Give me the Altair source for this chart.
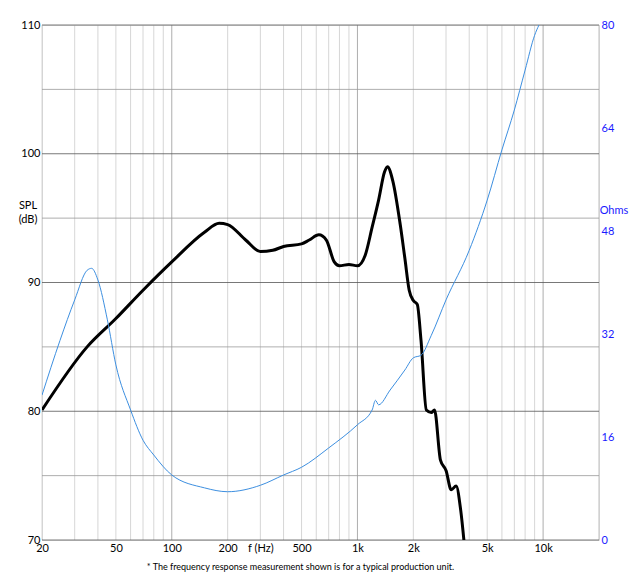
import altair as alt
import pandas as pd

# SPL (black) curve
spl_f = [20, 35, 50, 70, 100, 150, 180, 200, 250, 300, 350, 400, 500, 550, 620, 680, 750, 800,
         900, 1000, 1100, 1200, 1300, 1400, 1450, 1550, 1700, 1800, 1900, 2000, 2100, 2200,
         2350, 2500, 2600, 2800, 3000, 3200, 3400, 3600, 3800]
spl_db = [80.1, 85.0, 87.2, 89.4, 91.6, 93.9, 94.6, 94.5, 93.3, 92.4, 92.5, 92.8, 93.0, 93.3,
          93.7, 93.3, 91.6, 91.3, 91.4, 91.3, 92.1, 94.3, 96.4, 98.6, 99.0, 97.9, 94.5, 91.9,
          89.4, 88.6, 88.3, 85.5, 80.1, 79.9, 80.1, 76.2, 75.4, 73.9, 74.2, 72.3, 69.0]

# impedance (blue) curve
imp_f = [20, 25, 30, 35, 37, 40, 45, 50, 60, 70, 80, 100, 150, 200, 300, 400, 500, 700,
         1000, 1200, 1250, 1300, 1500, 1800, 2000, 2200, 2500, 3000, 4000, 5000, 6000,
         7000, 8000, 9000, 9500]
imp_ohm = [22.5, 31.0, 37.3, 41.9, 42.2, 40.4, 34.2, 27.2, 20.2, 15.5, 13.2, 10.1, 8.1, 7.5,
           8.5, 10.1, 11.3, 14.3, 17.9, 20.2, 21.7, 21.0, 23.3, 26.4, 28.3, 28.7, 31.8, 37.3,
           45.0, 52.8, 60.6, 66.8, 73.0, 78.4, 80.0]

x_labels = {20: "20", 50: "50", 100: "100", 200: "200", 300: "f (Hz)", 500: "500",
            1000: "1k", 2000: "2k", 5000: "5k", 10000: "10k"}
v_grid = [m * d for d in [10, 100, 1000, 10000] for m in range(1, 10) if 20 <= m * d <= 20000] + [20000]
h_grid = list(range(70, 111, 5))

W, H = 557, 515
xs = alt.Scale(type="log", domain=[20, 20000], nice=False)
ys = alt.Scale(domain=[70, 110], nice=False)

spl = pd.DataFrame({"f": spl_f, "db": spl_db})
imp = pd.DataFrame({"f": imp_f, "ohm": imp_ohm})
vg = pd.DataFrame({"f": v_grid, "major": [v in (100, 1000, 10000) for v in v_grid]})
hg = pd.DataFrame({"db": h_grid, "major": [v % 10 == 0 for v in h_grid]})

label_expr = "{" + ",".join(f"'{k}':'{v}'" for k, v in x_labels.items()) + "}[datum.value] || ''"

vrules = alt.Chart(vg).mark_rule(strokeWidth=0.8).encode(
    x=alt.X("f:Q", scale=xs, axis=alt.Axis(values=list(x_labels.keys()), labelExpr=label_expr,
            title=None, grid=False, ticks=False, domain=False, labelFontSize=11,
            labelColor="#000", labelFlush=False)),
    color=alt.condition("datum.major", alt.value("#999"), alt.value("#ccc")),
)
hrules = alt.Chart(hg).mark_rule(strokeWidth=0.8).encode(
    y=alt.Y("db:Q", scale=ys, axis=alt.Axis(values=[70, 80, 90, 100, 110], title=None, grid=False,
            ticks=False, domain=False, labelFontSize=11, labelColor="#000")),
    color=alt.condition("datum.major", alt.value("#555"), alt.value("#999")),
)
spl_line = alt.Chart(spl).mark_line(color="black", strokeWidth=3, interpolate="monotone", clip=True).encode(
    x=alt.X("f:Q", scale=xs), y=alt.Y("db:Q", scale=ys))

imp_line = alt.Chart(imp).mark_line(color="#3d8fe0", strokeWidth=1, interpolate="monotone", clip=True).encode(
    x=alt.X("f:Q", scale=xs),
    y=alt.Y("ohm:Q", scale=alt.Scale(domain=[0, 80], nice=False),
            axis=alt.Axis(orient="right", values=[0, 16, 32, 48, 64, 80], title=None, grid=False,
                          ticks=False, domain=False, labelFontSize=11, labelColor="#1a1aff")))

texts = pd.DataFrame({"t": ["SPL", "(dB)", "Ohms",
                            "* The frequency response measurement shown is for a typical production unit."],
                      "x": [-14, -14, 572, W / 2 - 20], "y": [181, 195, 186, H + 27],
                      "c": ["#000", "#000", "#1a1aff", "#000"], "s": [11, 11, 11, 9]})
labels = alt.Chart(texts).mark_text(fontSize=11).encode(
    x=alt.X("x:Q", scale=None), y=alt.Y("y:Q", scale=None), text="t:N",
    color=alt.Color("c:N", scale=None), size=alt.Size("s:Q", scale=None))

db_part = alt.layer(vrules, hrules, spl_line).resolve_scale(color="independent")
chart = alt.layer(db_part, imp_line).resolve_scale(y="independent")
chart = alt.layer(chart, labels).properties(
    width=W, height=H, autosize=alt.AutoSizeParams(type="none"),
    padding={"left": 34, "top": 17, "right": 36, "bottom": 35},
).configure_view(stroke="#999").configure(font="Lato")

chart.save("out.html", embed_options={"renderer": "svg", "actions": False})
